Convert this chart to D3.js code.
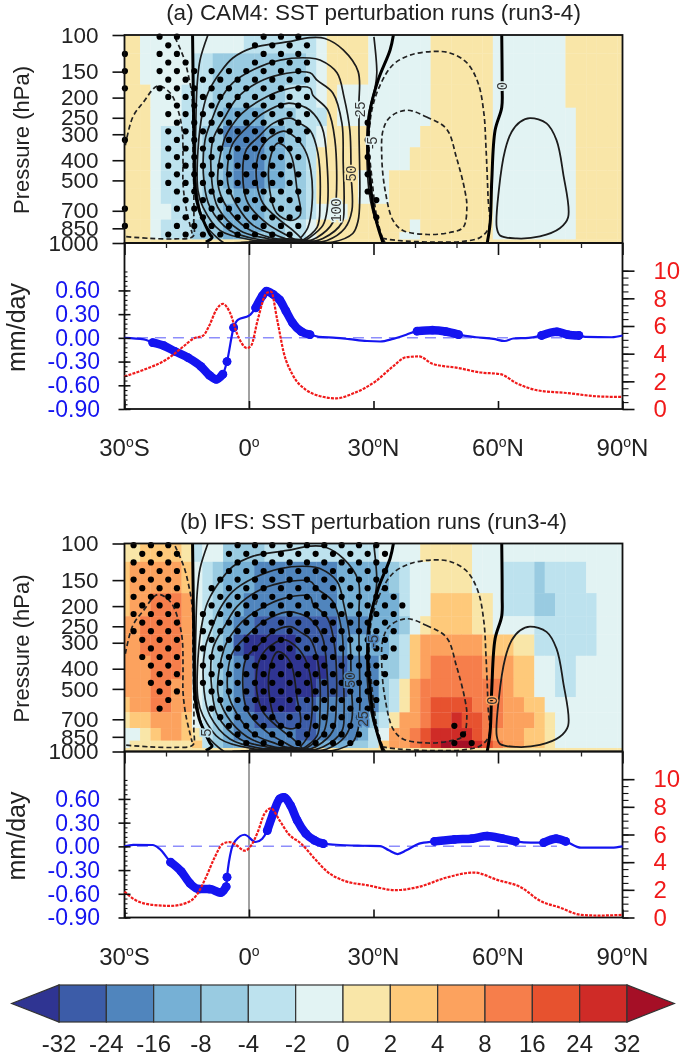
<!DOCTYPE html>
<html>
<head>
<meta charset="utf-8">
<script src="https://cdn.jsdelivr.net/npm/d3@7"></script>
<style>
  body { margin: 0; background: #fff; }
  svg { display: block; font-family: "Liberation Sans", Arial, sans-serif; filter: blur(0.45px); }
</style>
</head>
<body>
<svg id="chart" width="685" height="1058"></svg>
<script>
// colour classes, a = below -32 ... n = above 32
const classKeys = "abcdefghijklmn".split("")
const classColors = ["#2f3492", "#3c5ca8", "#5085bd", "#76b0d5", "#99cbe1", "#bde2ee", "#e2f3f3",
  "#f9e6a8", "#fec97a", "#fca25e", "#f67e4b", "#e7522f", "#cf2b27", "#a50f26"]
const barLabels = ["-32", "-24", "-16", "-8", "-4", "-2", "0", "2", "4", "8", "16", "24", "32"]

const levels = [100, 150, 200, 250, 300, 400, 500, 600, 700, 850, 925, 1000]
const pressureTicks = [100, 150, 200, 250, 300, 400, 500, 700, 850, 1000]

// run length coded rows, one per level, 49 columns from 30S to 90N every 2.5 deg
const heatA = [
  "h2 g10 f7 g1 h4 g6 h6 g7 h6",
  "h2 g5 f2 e9 f1 g1 h4 g6 h6 g7 h6",
  "h3 g3 f3 e7 f3 g1 h1 g9 h6 g7 h6",
  "h3 g3 f3 e1 d4 e3 f3 h1 g9 h6 g8 h5",
  "h3 g1 f4 e2 c4 d2 e2 f1 g1 h4 g5 h7 g8 h5",
  "h3 g1 f4 e2 d1 c3 d2 e2 f1 h5 g4 h8 g8 h5",
  "h3 g1 f4 e2 d1 c3 d2 e2 f1 h4 g3 h10 g8 h5",
  "h3 g1 f4 e3 d3 e4 f1 h4 g3 h10 g8 h5",
  "h3 g2 f3 e2 d4 e4 f1 g3 h14 g8 h5",
  "h3 g1 f3 e3 d4 e2 f2 g1 h9 g1 h7 g8 h5",
  "h3 g1 f3 e3 d3 e3 f2 g1 h8 g2 h7 g8 h5",
  "h49"
]
const heatB = [
  "h2 i4 h1 f1 g2 e4 f11 g4 h5 g15",
  "i1 j5 i1 g1 f1 e1 d3 c8 d5 e1 f1 g2 h4 g3 f3 e1 f4 g4",
  "i1 j2 k3 j1 g1 f1 e1 d2 c9 d6 f1 g2 i4 h2 g1 f3 e2 f4 g3",
  "j2 k4 j1 g1 f1 e1 d1 c2 b8 c3 d3 e1 g1 h1 i4 h2 g4 f6 g3",
  "j2 k4 j1 g1 f1 e1 d1 b1 a5 b4 c1 d4 e1 f1 i1 j6 i3 h2 f6 g3",
  "j3 k3 j1 g1 f1 e1 d1 c1 b1 a7 b2 c3 e2 f1 i1 j1 k5 j3 i2 g2 f2 g5",
  "j3 k2 j2 g1 f1 e1 d1 c1 b1 a6 b3 c3 e1 f1 h1 j1 k8 j1 i2 g2 f2 g5",
  "i1 j2 k2 j2 g1 f1 e1 d1 c1 b1 a4 b2 c6 e1 f1 h1 j1 k1 l4 k3 j2 i2 g8",
  "h1 i2 j3 i1 g1 f1 e1 d1 c2 b6 c4 d1 e1 f1 h1 j2 k1 l2 m1 l2 k2 j3 i1 h1 g7",
  "g2 h1 i1 j2 i1 h1 f1 e1 d1 c6 b2 c4 d1 f1 g1 j2 k1 l1 m4 l1 k1 j3 i2 h1 g7",
  "g1 h6 i1 f1 e1 d2 c7 d3 e2 f1 i1 j2 k1 l1 m1 n3 m1 l1 k1 j2 i2 h1 g7",
  "h49"
]

// significance stipple on a staggered lattice: [row, first column, last column]
const stippleA = [
  [0, 4, 6], [0, 16, 20], [1, 5, 5], [1, 15, 21], [2, 0, 0], [2, 4, 6], [2, 16, 20], [3, 5, 7], [3, 15, 21],
  [4, 0, 0], [4, 4, 20], [5, 5, 21], [6, 0, 0], [6, 4, 20], [7, 5, 21], [8, 6, 20], [9, 5, 21],
  [10, 6, 20], [10, 28, 28], [11, 5, 21], [12, 0, 0], [12, 6, 20], [12, 28, 28], [13, 5, 19],
  [14, 6, 20], [14, 28, 28], [15, 5, 19], [16, 6, 20], [16, 28, 28], [17, 5, 19], [18, 6, 20], [18, 28, 28],
  [19, 7, 19], [19, 29, 29], [20, 0, 0], [20, 6, 20], [21, 7, 19], [21, 29, 29], [22, 0, 0], [22, 6, 20], [23, 5, 19]
]
const stippleB = [
  [0, 1, 5], [0, 13, 29], [1, 2, 6], [1, 12, 30], [2, 1, 5], [2, 13, 29], [3, 2, 6], [3, 12, 30],
  [4, 1, 5], [4, 11, 29], [5, 2, 6], [5, 10, 30], [6, 1, 5], [6, 11, 31], [7, 2, 6], [7, 10, 32],
  [8, 1, 5], [8, 9, 31], [9, 2, 6], [9, 10, 30], [10, 1, 5], [10, 9, 31], [11, 2, 6], [11, 10, 30],
  [12, 3, 5], [12, 9, 31], [13, 2, 6], [13, 10, 30], [14, 3, 5], [14, 9, 29], [15, 4, 6], [15, 10, 30],
  [16, 3, 5], [16, 9, 29], [17, 4, 6], [17, 10, 28], [18, 5, 5], [18, 11, 29], [19, 4, 4], [19, 10, 28],
  [20, 11, 27], [21, 12, 26], [21, 38, 38], [22, 13, 27], [22, 39, 39], [23, 14, 26], [23, 38, 40]
]

// streamfunction contours, [lat, hPa]
const zeroLines = [
  [[-13.6, 100], [-13.4, 206], [-13.25, 358], [-13, 558], [-12, 697], [-10.8, 797], [-9.4, 910], [-8.9, 940], [-10.4, 990]],
  [[34.8, 100], [34, 118], [31.1, 165], [29.2, 230], [28.7, 310], [28.7, 370], [29.2, 500], [29.9, 672], [31.1, 842], [32.3, 1000]],
  [[60.9, 100], [61, 178], [60.9, 223], [59.3, 287], [58.5, 500], [58.1, 805], [57.4, 1000]]
]
const positiveLines = [
  [[-9.9, 100], [-11.8, 132], [-12.5, 174], [-12.8, 257], [-12.8, 500], [-11.8, 697], [-10.4, 823], [-7.5, 951], [-6, 1000]],
  [[30.1, 102], [30.8, 152], [30.4, 178], [28.7, 248], [28.4, 358], [28.9, 558], [29.9, 712], [31.6, 890], [32.8, 1000]],
  [[9, 990], [1, 970], [-7, 870], [-11.1, 672], [-12.3, 558], [-12.3, 358], [-11.1, 230], [-9.9, 190], [-7, 152], [-3.9, 129], [1, 115], [9.2, 108], [14.7, 103], [18.3, 104], [22.7, 118], [26.3, 150], [26.5, 213], [26.5, 287], [26.7, 603], [26.3, 779], [25, 900], [20.2, 990], [12.3, 1000]],
  [[10, 990], [3.4, 970], [-4.6, 870], [-9.4, 672], [-10.8, 517], [-10.6, 320], [-8.7, 248], [-7, 206], [-3.9, 170], [1, 147], [7.5, 132], [14.7, 129], [17.1, 132], [21.2, 152], [22.9, 199], [24.3, 287], [24.6, 463], [24.8, 697], [23.1, 850], [18.8, 972], [12.3, 1000]],
  [[10.7, 990], [4.3, 951], [-2.2, 870], [-7.5, 675], [-8.9, 517], [-8.7, 320], [-5.8, 248], [-2.9, 201], [1.9, 170], [7.5, 155], [14.7, 152], [16.4, 165], [20.2, 190], [22.4, 266], [22.7, 413], [22.9, 646], [22.4, 797], [17.8, 951], [12.3, 1000]],
  [[11.6, 990], [5, 940], [-0.5, 850], [-5.3, 675], [-7.5, 517], [-6, 320], [-4.1, 272], [-1.7, 238], [2.7, 206], [8.2, 184], [14.7, 180], [15.4, 195], [19, 230], [20.7, 320], [21, 624], [20.2, 797], [16.4, 940], [12.3, 1000]],
  [[11.6, 995], [6.7, 920], [1, 823], [-2.9, 660], [-5.1, 517], [-4.1, 339], [-0.5, 278], [3.4, 238], [9.2, 213], [12.3, 218], [14.7, 230], [17.6, 278], [18.8, 413], [18.8, 697], [17.8, 823], [14.7, 940], [12.3, 1000]],
  [[12.3, 995], [9.2, 920], [4.3, 805], [-0.2, 646], [-1.4, 517], [-0.7, 358], [2.2, 310], [5.8, 266], [9.9, 251], [12.3, 266], [14.7, 287], [16.6, 370], [17.1, 646], [16.4, 842], [12.3, 990]],
  [[12.3, 1000], [12.8, 972], [10.6, 870], [7.5, 779], [3.4, 646], [1.9, 517], [2.2, 378], [3.9, 327], [6.3, 300], [8.4, 290], [11.1, 310], [13.5, 358], [14.9, 447], [15.2, 646], [14.2, 842], [12.3, 951]],
  [[0, 985], [5, 965], [9, 955], [13, 965], [17, 990]],
  [[3, 990], [7, 975], [9, 970], [12, 975], [15, 995]],
  [[-2, 995], [5, 980], [9, 985], [16, 998]],
  [[-4, 997], [4, 988], [9, 978], [14, 986], [20, 998]],
  [[5, 998], [8, 962], [10, 962], [13, 998]]
]
const innerLoop = [[7, 331], [9.9, 370], [11.6, 558], [12.3, 737], [9.9, 779], [6.7, 720], [5, 558], [5, 400]]
const rightLoop = [[67.7, 251], [71.7, 266], [74.1, 320], [75.7, 463], [76.9, 752], [74.9, 850], [70.1, 930], [64.5, 951], [60.5, 920], [59.7, 842], [60.2, 558], [61.7, 358], [63.3, 292], [65.3, 262]]
const negativeLines = [
  [[32.2, 951], [30.8, 755], [29.6, 484], [28.9, 330], [29.6, 230], [31.6, 174], [34.7, 139], [38.8, 125], [44.3, 120], [48.4, 122], [52.5, 136], [55.2, 170], [56.6, 238], [57.1, 346], [57.6, 603], [57.8, 842], [55.7, 940], [51.6, 982], [44.3, 990], [35.7, 972], [32.2, 951]],
  [[-17.8, 103], [-15.7, 129], [-14.5, 160], [-13.7, 200], [-13.5, 339], [-13.3, 558], [-13.3, 779], [-13.5, 930], [-17.8, 955], [-23.9, 950], [-30, 930]],
  [[-29.8, 339], [-28, 248], [-25.5, 211], [-22, 176], [-19, 190], [-17.1, 230], [-16.1, 287], [-15.9, 400], [-15.9, 517], [-15.2, 672], [-13.7, 900]]
]
const negativeLoop = [[38, 230], [42.8, 248], [47.6, 283], [50, 389], [52, 558], [52.5, 668], [51.6, 842], [48.4, 890], [43.1, 910], [37.1, 870], [34.7, 779], [32.8, 558], [32, 389], [32.3, 287], [34, 248]]

const labelsA = [["25", 26.7, 228, "#e2f3f3"], ["-5", 29.6, 330, "#e2f3f3"], ["50", 24.5, 463, "#f9e6a8"], ["100", 21.1, 697, "#e2f3f3"], ["0", 61, 176, "#e2f3f3"]]
const labelsB = [["5", -10.4, 812, "#bde2ee"], ["-5", 29.9, 295, "#5085bd"], ["50", 24.3, 453, "#5085bd"], ["25", 27.5, 697, "#5085bd"], ["0", 58.5, 570, "#fca25e"]]

// precipitation difference (mm/day) and climatology (right axis), [lat, value]
const blueA = [[-30, 0], [-25.3, -0.02], [-23.2, -0.06], [-20.5, -0.10], [-17.9, -0.17], [-14.7, -0.25], [-11.6, -0.36], [-9.5, -0.475], [-7.9, -0.525], [-6.3, -0.46], [-5.3, -0.30], [-3.7, 0.13], [-2.6, 0.23], [0, 0.28], [1.6, 0.38], [3.2, 0.53], [4.2, 0.59], [5.8, 0.55], [7.4, 0.48], [8.9, 0.34], [10.5, 0.19], [12.6, 0.08], [14.7, 0.04], [16.8, 0.013], [21, 0], [24.2, -0.017], [28.4, -0.04], [31.6, -0.046], [34.7, -0.013], [37.9, 0.04], [40.5, 0.085], [44.2, 0.097], [47.4, 0.08], [50.5, 0.04], [54.7, 0.008], [58.9, -0.013], [61.6, -0.04], [63.7, -0.008], [67.4, 0], [70.5, 0.03], [74.2, 0.076], [76.8, 0.04], [79.5, 0.03], [81, 0.013], [87.4, 0.008], [90, 0.03]]
const redA = [[-30, 2.36], [-25.3, 2.84], [-20, 3.56], [-15.8, 4.52], [-13.2, 5.12], [-11.1, 5.29], [-9.5, 6.08], [-7.9, 7.16], [-6.3, 7.6], [-4.7, 7.04], [-2.6, 5.24], [-0.5, 4.4], [0.5, 4.57], [2.1, 6.44], [4.2, 8.37], [5.3, 8.49], [6.8, 6.44], [8.4, 4.04], [10.5, 2.48], [13.7, 1.39], [16.8, 0.96], [21, 0.77], [25.3, 1.15], [30.5, 2.0], [34.7, 3.08], [37.9, 3.75], [41, 3.8], [44.2, 3.27], [50.5, 2.96], [55.8, 2.64], [60.5, 2.52], [64.7, 1.83], [69.5, 1.35], [76.8, 1.15], [84.2, 0.91], [90, 0.87]]
const sigA = [[-23.2, -6.3], [-5.3, -5.3], [-3.7, -3.7], [1.6, 14.7], [40.5, 50.5], [70.5, 79.5]]

const blueB = [[-30, 0], [-27.9, 0.02], [-23.2, 0.017], [-21.6, -0.03], [-18.9, -0.2], [-16.3, -0.32], [-14.2, -0.47], [-12.1, -0.54], [-9.5, -0.54], [-6.8, -0.585], [-5.5, -0.51], [-5.3, -0.39], [-4.2, -0.03], [-3.2, 0.076], [-1.05, 0.147], [1.6, 0.055], [3.2, 0.097], [4.4, 0.2], [5.8, 0.41], [7.4, 0.6], [8.4, 0.62], [10, 0.52], [11.6, 0.33], [13.7, 0.16], [15.8, 0.076], [17.9, 0.034], [21, 0.02], [27.4, 0.008], [31.6, 0.004], [33.7, -0.05], [35.8, -0.097], [37.9, -0.05], [41, 0.034], [44.7, 0.063], [49.5, 0.088], [53.7, 0.097], [57.4, 0.13], [61.1, 0.097], [64.2, 0.063], [67.9, 0.046], [71, 0.046], [74, 0.097], [76.3, 0.063], [80, -0.017], [87.4, -0.017], [90, 0]]
const redB = [[-30, 1.87], [-27.4, 1.27], [-23.2, 0.91], [-18.9, 0.84], [-14.7, 1.1], [-12.6, 1.63], [-10.5, 2.82], [-8.4, 4.26], [-6.3, 5.33], [-4.7, 5.45], [-3.2, 5.26], [-1.05, 4.83], [0.5, 5.2], [2.1, 6.17], [3.7, 7.49], [5.3, 7.89], [7.4, 7.0], [9.5, 6.05], [12.6, 5.33], [15.8, 4.26], [18.9, 3.3], [23.2, 2.63], [28.4, 2.34], [35.3, 1.98], [41, 2.22], [47.4, 2.87], [54.2, 3.25], [60, 2.7], [65.3, 2.22], [70.5, 1.15], [74.7, 0.74], [80, 0.19], [84.2, 0.14], [90, 0.19]]
const sigB = [[-18.9, -5.5], [-5.3, -5.3], [4.4, 17.9], [44.7, 64.2], [71, 76.3]]

const latTicks = [-30, 0, 30, 60, 90]
const latNames = [["30", "S"], ["0", ""], ["30", "N"], ["60", "N"], ["90", "N"]]
const blueTicks = [-0.9, -0.6, -0.3, 0, 0.3, 0.6]
const redTicks = [0, 2, 4, 6, 8, 10]

const svg = d3.select("#chart")
const x = d3.scaleLinear().domain([-30, 90]).range([124.5, 622.5])
const color = d3.scaleOrdinal().domain(classKeys).range(classColors)

function decodeRow(str) {
  let out = []
  str.split(" ").forEach(run => {
    for (let i = 0; i < +run.slice(1); i++) out.push(run[0])
  })
  return out
}

function drawPanel(id, title, off, heat, stipple, labels, blue, red, sig, dashTo) {
  const g = svg.append("g").attr("transform", `translate(0,${off})`)
  const top = 35, mid = 243, bot = 409
  const yP = d3.scaleLog().domain([100, 1000]).range([top, mid])
  const yBlue = d3.scaleLinear().domain([-0.9, 1.2]).range([bot, mid])
  const yRed = d3.scaleLinear().domain([0, 12]).range([bot, mid])

  g.append("text").attr("x", 373.5).attr("y", 20).attr("text-anchor", "middle")
    .attr("font-size", 22.5).attr("fill", "#222").text(title)

  // shaded cross section
  const edges = levels.map((p, i) => [
    i == 0 ? p : Math.sqrt(p * levels[i - 1]),
    i == levels.length - 1 ? p : Math.sqrt(p * levels[i + 1])
  ])
  const cells = []
  heat.forEach((row, i) => decodeRow(row).forEach((k, j) => {
    const lat = -30 + 2.5 * j
    cells.push({ k, x0: Math.max(lat - 1.25, -30), x1: Math.min(lat + 1.25, 90), p0: edges[i][0], p1: edges[i][1] })
  }))
  g.append("g").selectAll("rect").data(cells).join("rect")
    .attr("x", d => x(d.x0)).attr("width", d => x(d.x1) - x(d.x0) + 0.3)
    .attr("y", d => yP(d.p0)).attr("height", d => yP(d.p1) - yP(d.p0) + 0.3)
    .attr("fill", d => color(d.k))

  // contours
  const clip = `clip${id}`
  g.append("clipPath").attr("id", clip).append("rect")
    .attr("x", x(-30)).attr("y", top).attr("width", x(90) - x(-30)).attr("height", mid - top)
  const cg = g.append("g").attr("clip-path", `url(#${clip})`).attr("fill", "none").attr("stroke-linejoin", "round")
  const open = d3.line().x(d => x(d[0])).y(d => yP(d[1])).curve(d3.curveCatmullRom.alpha(0.5))
  const closed = d3.line().x(d => x(d[0])).y(d => yP(d[1])).curve(d3.curveCatmullRomClosed.alpha(0.5))

  positiveLines.forEach(c => cg.append("path").attr("d", open(c)).attr("stroke", "#1c1c1c").attr("stroke-width", 1.7))
  cg.append("path").attr("d", closed(innerLoop)).attr("stroke", "#1c1c1c").attr("stroke-width", 1.7)
  cg.append("path").attr("d", closed(rightLoop)).attr("stroke", "#1c1c1c").attr("stroke-width", 1.8)
  negativeLines.forEach(c => cg.append("path").attr("d", open(c)).attr("stroke", "#222").attr("stroke-width", 1.7).attr("stroke-dasharray", "5,3"))
  cg.append("path").attr("d", closed(negativeLoop)).attr("stroke", "#222").attr("stroke-width", 1.7).attr("stroke-dasharray", "5,3")
  zeroLines.forEach(c => cg.append("path").attr("d", open(c)).attr("stroke", "#000").attr("stroke-width", 3))

  // stipple lattice, 2.09 deg across and 8.6 px of log pressure down
  const dots = []
  stipple.forEach(([r, c0, c1]) => {
    for (let c = c0; c <= c1; c += 2) dots.push([-29.9 + c * 2.089, 100 * Math.pow(10, (1.7 + 8.6 * r) / 208)])
  })
  g.append("g").selectAll("circle").data(dots).join("circle")
    .attr("cx", d => x(d[0])).attr("cy", d => yP(d[1])).attr("r", 3.1).attr("fill", "#000")

  // contour labels
  g.append("g").selectAll("text").data(labels).join("text")
    .attr("transform", d => `translate(${x(d[1])},${yP(d[2])}) rotate(-90)`)
    .attr("text-anchor", "middle").attr("dy", "0.35em").attr("font-size", 14).attr("fill", "#333")
    .attr("stroke", d => d[3]).attr("stroke-width", 3).attr("paint-order", "stroke")
    .text(d => d[0])

  // frame and pressure axis
  g.append("rect").attr("x", x(-30)).attr("y", top).attr("width", x(90) - x(-30)).attr("height", mid - top)
    .attr("fill", "none").attr("stroke", "#111").attr("stroke-width", 1.8)

  const axP = g.append("g").attr("transform", `translate(${x(-30)},0)`)
    .call(d3.axisLeft(yP).tickValues(pressureTicks).tickSize(12).tickFormat(d3.format("d")))
  axP.select(".domain").remove()
  axP.selectAll("line").attr("stroke", "#111").attr("stroke-width", 1.6)
  axP.selectAll("text").attr("font-size", 22.5).attr("font-family", "Liberation Sans").attr("fill", "#222").attr("x", -26)

  g.append("text").attr("transform", "translate(29,140) rotate(-90)").attr("text-anchor", "middle")
    .attr("font-size", 22).attr("fill", "#222").text("Pressure (hPa)")

  // lower panel
  g.append("rect").attr("x", x(-30)).attr("y", mid).attr("width", x(90) - x(-30)).attr("height", bot - mid)
    .attr("fill", "none").attr("stroke", "#111").attr("stroke-width", 1.8)

  g.append("line").attr("x1", x(0)).attr("x2", x(0)).attr("y1", mid).attr("y2", bot).attr("stroke", "#444").attr("stroke-width", 1)
  g.append("line").attr("x1", x(-27)).attr("x2", x(dashTo)).attr("y1", yBlue(0)).attr("y2", yBlue(0))
    .attr("stroke", "#8d8dfb").attr("stroke-width", 1.5).attr("stroke-dasharray", "11,7")

  const lineBlue = d3.line().x(d => x(d[0])).y(d => yBlue(d[1])).curve(d3.curveMonotoneX)
  const lineRed = d3.line().x(d => x(d[0])).y(d => yRed(d[1])).curve(d3.curveMonotoneX)

  g.append("path").attr("d", lineBlue(blue)).attr("fill", "none").attr("stroke", "#1414f0").attr("stroke-width", 2.2)
  sig.forEach(([a, b]) => {
    const seg = blue.filter(d => d[0] >= a && d[0] <= b)
    g.append("path").attr("d", lineBlue(seg)).attr("fill", "none").attr("stroke", "#1414f0")
      .attr("stroke-width", 8.5).attr("stroke-linecap", "round")
    g.append("g").selectAll("circle").data(seg).join("circle")
      .attr("cx", d => x(d[0])).attr("cy", d => yBlue(d[1])).attr("r", 4.4).attr("fill", "#1414f0")
  })
  g.append("path").attr("d", lineRed(red)).attr("fill", "none").attr("stroke", "#f01a1a").attr("stroke-width", 2.2).attr("stroke-dasharray", "3,1.2")

  // x axis, ticks point in from both sides
  const axTop = g.append("g").attr("transform", `translate(0,${mid})`)
    .call(d3.axisBottom(x).tickValues(d3.range(-30, 91, 10).filter(d => d % 30 != 0)).tickSize(5).tickFormat(""))
  axTop.select(".domain").remove()
  axTop.selectAll("line").attr("stroke", "#222").attr("stroke-width", 1.3)
  const axTopMajor = g.append("g").attr("transform", `translate(0,${mid})`)
    .call(d3.axisBottom(x).tickValues(latTicks).tickSize(12).tickFormat(""))
  axTopMajor.select(".domain").remove()
  axTopMajor.selectAll("line").attr("stroke", "#111").attr("stroke-width", 1.6)

  const axBot = g.append("g").attr("transform", `translate(0,${bot})`)
    .call(d3.axisTop(x).tickValues(latTicks).tickSize(8).tickFormat(""))
  axBot.select(".domain").remove()
  axBot.selectAll("line").attr("stroke", "#111").attr("stroke-width", 1.6)

  const latLabel = g.append("g").selectAll("text").data(latTicks).join("text")
    .attr("x", d => x(d)).attr("y", bot + 47).attr("text-anchor", "middle").attr("font-size", 24).attr("fill", "#222")
  latLabel.each(function (d, i) {
    const t = d3.select(this)
    t.append("tspan").text(latNames[i][0])
    t.append("tspan").attr("dy", -9).attr("font-size", 14).text("o")
    t.append("tspan").attr("dy", 9).text(latNames[i][1])
  })

  // left axis, blue
  const axL = g.append("g").attr("transform", `translate(${x(-30)},0)`)
    .call(d3.axisLeft(yBlue).tickValues(blueTicks).tickSize(6).tickFormat(d => d3.format(".2f")(d).replace("\u2212", "-")))
  axL.select(".domain").remove()
  axL.selectAll("line").attr("stroke", "#111").attr("stroke-width", 1.6)
  axL.selectAll("text").attr("font-size", 23).attr("font-family", "Liberation Sans").attr("fill", "#1414f0").attr("x", -24.5)
  const axLIn = g.append("g").attr("transform", `translate(${x(-30)},0)`)
    .call(d3.axisRight(yBlue).tickValues(d3.range(-0.9, 0.87, 0.06)).tickSize(3).tickFormat(""))
  axLIn.select(".domain").remove()
  axLIn.selectAll("line").attr("stroke", "#111").attr("stroke-width", 1.1)
  const axLMaj = g.append("g").attr("transform", `translate(${x(-30)},0)`)
    .call(d3.axisRight(yBlue).tickValues(blueTicks).tickSize(6).tickFormat(""))
  axLMaj.select(".domain").remove()
  axLMaj.selectAll("line").attr("stroke", "#111").attr("stroke-width", 1.5)

  g.append("text").attr("transform", `translate(25,${(283 + 372) / 2}) rotate(-90)`).attr("text-anchor", "middle")
    .attr("font-size", 25).attr("fill", "#222").text("mm/day")

  // right axis, red
  const axR = g.append("g").attr("transform", `translate(${x(90)},0)`)
    .call(d3.axisRight(yRed).tickValues(redTicks).tickSize(12).tickFormat(d3.format("d")))
  axR.select(".domain").remove()
  axR.selectAll("line").attr("stroke", "#111").attr("stroke-width", 1.6)
  axR.selectAll("text").attr("font-size", 24).attr("font-family", "Liberation Sans").attr("fill", "#f01a1a").attr("x", 31)
  const axRMin = g.append("g").attr("transform", `translate(${x(90)},0)`)
    .call(d3.axisRight(yRed).tickValues(d3.range(0, 10.1, 0.5)).tickSize(6).tickFormat(""))
  axRMin.select(".domain").remove()
  axRMin.selectAll("line").attr("stroke", "#111").attr("stroke-width", 1.1)
}

drawPanel("a", "(a) CAM4: SST perturbation runs (run3-4)", 0, heatA, stippleA, labelsA, blueA, redA, sigA, 76)
drawPanel("b", "(b) IFS: SST perturbation runs (run3-4)", 508.5, heatB, stippleB, labelsB, blueB, redB, sigB, 74.2)

// colour bar
const barX = d3.scalePoint().domain(barLabels).range([59, 627])
const barTop = 985, barBot = 1022
const bar = svg.append("g").attr("stroke", "#333").attr("stroke-width", 1.2)
barLabels.slice(0, -1).forEach((lab, i) => {
  const x0 = barX(lab), x1 = barX(barLabels[i + 1])
  bar.append("rect").attr("x", x0).attr("y", barTop).attr("width", x1 - x0).attr("height", barBot - barTop)
    .attr("fill", classColors[i + 1])
})
const step = barX.step()
bar.append("path").attr("fill", classColors[0])
  .attr("d", d3.line()([[59, barTop], [59, barBot], [59 - step, (barTop + barBot) / 2]]) + "Z")
bar.append("path").attr("fill", classColors[13])
  .attr("d", d3.line()([[627, barTop], [627, barBot], [627 + step, (barTop + barBot) / 2]]) + "Z")
svg.append("g").selectAll("text").data(barLabels).join("text")
  .attr("x", d => barX(d)).attr("y", 1051.5).attr("text-anchor", "middle").attr("font-size", 24).attr("fill", "#222").text(d => d)
</script>
</body>
</html>
